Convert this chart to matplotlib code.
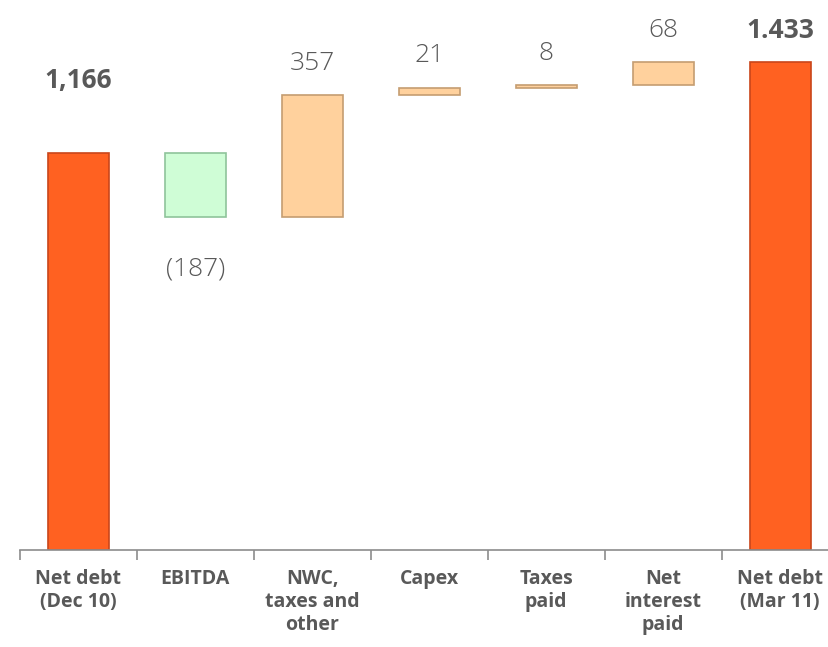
import numpy as np
import matplotlib.pyplot as plt

plt.rcParams['font.family'] = ['Open Sans', 'DejaVu Sans']

categories = ['Net debt\n(Dec 10)', 'EBITDA', 'NWC,\ntaxes and\nother', 'Capex',
              'Taxes\npaid', 'Net\ninterest\npaid', 'Net debt\n(Mar 11)']
start_debt = 1166
changes = [-187, 357, 21, 8, 68]
end_debt = 1433
value_labels = ['1,166', '(187)', '357', '21', '8', '68', '1.433']

# waterfall bottoms / heights
bottoms = [0]
heights = [start_debt]
level = start_debt
for c in changes:
    bottoms.append(level + min(c, 0))
    heights.append(abs(c))
    level += c
bottoms.append(0)
heights.append(end_debt)

face = ['#FF6121', '#CFFDD6', '#FFD19D', '#FFD19D', '#FFD19D', '#FFD19D', '#FF6121']
edge = ['#C9461A', '#8FC49B', '#C59D71', '#C59D71', '#C59D71', '#C59D71', '#C9461A']

fig = plt.figure(figsize=(8.29, 6.47), dpi=100)
ax = fig.add_axes([19.7 / 829, 97 / 647, 819 / 829, 550 / 647])

x = np.arange(len(categories))
ax.bar(x, heights, bottom=bottoms, width=0.52, color=face, edgecolor=edge, linewidth=1.2)

ax.set_xlim(-0.5, len(categories) - 0.5)
ax.set_ylim(0, 1615)

gray = '#595959'
for i, lab in enumerate(value_labels):
    top = bottoms[i] + heights[i]
    if i == 0:
        ax.annotate(lab, (x[i], top), xytext=(0, 52), textcoords='offset points',
                    ha='center', va='center', fontsize=19, fontweight='bold', color=gray)
    elif i == len(value_labels) - 1:
        ax.annotate(lab, (x[i], top), xytext=(0, 23), textcoords='offset points',
                    ha='center', va='center', fontsize=19, fontweight='bold', color=gray)
    elif changes[i - 1] < 0:
        ax.annotate(lab, (x[i], bottoms[i]), xytext=(0, -38), textcoords='offset points',
                    ha='center', va='center', fontsize=19, fontweight='light', color=gray)
    else:
        ax.annotate(lab, (x[i], top), xytext=(0, 23), textcoords='offset points',
                    ha='center', va='center', fontsize=19, fontweight='light', color=gray)

for s in ['top', 'right', 'left']:
    ax.spines[s].set_visible(False)
ax.spines['bottom'].set_color('#8C8C8C')
ax.spines['bottom'].set_linewidth(1.2)
ax.set_yticks([])

ax.set_xticks(x)
ax.set_xticklabels(categories, fontsize=14, fontweight='bold', color=gray, linespacing=1.2)
ax.tick_params(axis='x', which='major', length=0, pad=14)
ax.set_xticks(np.arange(-0.5, len(categories), 1.0), minor=True)
ax.tick_params(axis='x', which='minor', length=7, color='#8C8C8C', width=1.2)

fig.savefig('out.png', dpi=100)
